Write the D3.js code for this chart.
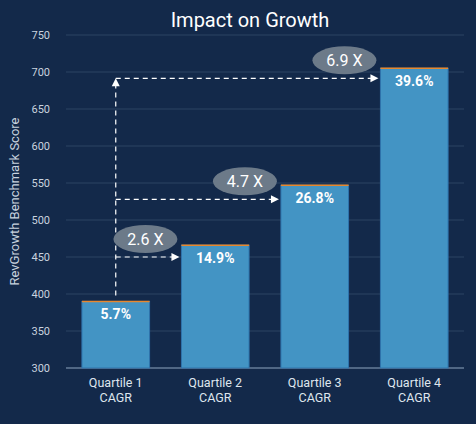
<!DOCTYPE html><html><head><meta charset="utf-8"><script src="https://cdn.jsdelivr.net/npm/d3@7"></script>
<style>body{margin:0;background:#13294a}</style></head><body><svg id="c" width="476" height="424"></svg>
<script>
const categories=["Quartile 1|CAGR","Quartile 2|CAGR","Quartile 3|CAGR","Quartile 4|CAGR"];
const scores=[390,466,547,705];
const labels=["5.7%","14.9%","26.8%","39.6%"];
const multiples=["2.6 X","4.7 X","6.9 X"];
const yTicks=[300,350,400,450,500,550,600,650,700,750];
const svg=d3.select("#c");
svg.append("rect").attr("width",476).attr("height",424).attr("fill","#13294a");
const x=d3.scaleBand().domain(categories).range([66,464]).paddingInner(0.32).paddingOuter(0.16);
const y=d3.scaleLinear().domain([300,750]).range([368,35]);
const F="Roboto, 'Open Sans', sans-serif";
yTicks.forEach(t=>{svg.append("line").attr("x1",66).attr("x2",464).attr("y1",y(t)).attr("y2",y(t)).attr("stroke",t==300?"#8fa6bf":"#2c4563").attr("stroke-width",1);
svg.append("text").attr("x",50).attr("y",y(t)+4).attr("text-anchor","end").attr("fill","#c9d3df").attr("font-size",11).attr("font-family",F).text(t);});
svg.append("text").attr("transform",`translate(19,${y(525)}) rotate(-90)`).attr("text-anchor","middle").attr("fill","#c9d3df").attr("font-size",13).attr("font-family",F).text("RevGrowth Benchmark Score");
svg.append("text").attr("x",250).attr("y",27).attr("text-anchor","middle").attr("fill","#fff").attr("font-size",20).attr("font-family",F).text("Impact on Growth");
categories.forEach((c,i)=>{const bx=x(c),bw=x.bandwidth(),v=scores[i];
svg.append("rect").attr("x",bx).attr("y",y(v)).attr("width",bw).attr("height",y(300)-y(v)).attr("fill","#4394c4").attr("stroke","#2f74ad").attr("stroke-width",1);
svg.append("line").attr("x1",bx).attr("x2",bx+bw).attr("y1",y(v)).attr("y2",y(v)).attr("stroke","#e8872d").attr("stroke-width",1.5);
svg.append("text").attr("x",bx+bw/2).attr("y",y(v)+18).attr("text-anchor","middle").attr("fill","#fff").attr("font-weight","bold").attr("font-size",14).attr("font-family",F).text(labels[i]);
c.split("|").forEach((s,k)=>svg.append("text").attr("x",bx+bw/2).attr("y",387+k*15).attr("text-anchor","middle").attr("fill","#dfe6ee").attr("font-size",12.5).attr("font-family",F).text(s));});
const cx=x(categories[0])+x.bandwidth()/2;
const dash="5,4";
const arrow=(px,py,dir)=>{const p=dir=="up"?[[px-4,py+8],[px+4,py+8],[px,py]]:[[px-8,py-4],[px-8,py+4],[px,py]];svg.append("polygon").attr("points",p.map(q=>q.join(",")).join(" ")).attr("fill","#fff");};
const topY=y(scores[3])+10;
svg.append("line").attr("x1",cx).attr("x2",cx).attr("y1",y(scores[0])-6).attr("y2",topY+6).attr("stroke","#fff").attr("stroke-dasharray",dash).attr("stroke-width",1.2);
arrow(cx,topY,"up");
const lys=[y(450),y(528),topY];
[1,2,3].forEach((j,k)=>{const ex=x(categories[j])-2,ly=lys[k];
svg.append("line").attr("x1",cx).attr("x2",ex-6).attr("y1",ly).attr("y2",ly).attr("stroke","#fff").attr("stroke-dasharray",dash).attr("stroke-width",1.2);
arrow(ex,ly,"right");
const mx=x(categories[j])-36,my=ly-18;
svg.append("ellipse").attr("cx",mx).attr("cy",my).attr("rx",32).attr("ry",14).attr("fill","#6c7a89");
svg.append("text").attr("x",mx).attr("y",my+6).attr("text-anchor","middle").attr("fill","#fff").attr("font-size",16).attr("font-family",F).text(multiples[k]);});
</script></body></html>
